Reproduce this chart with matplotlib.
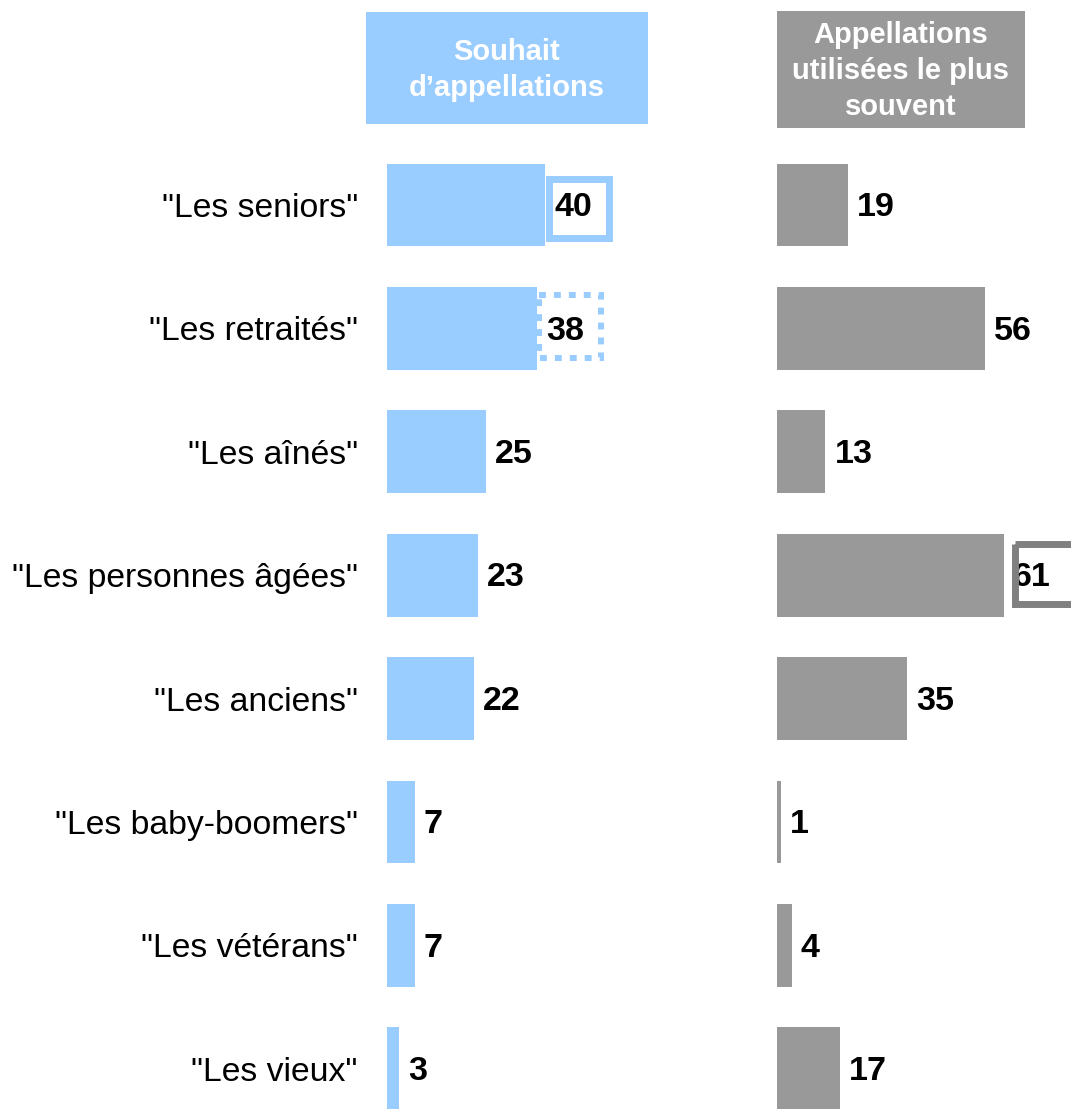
import matplotlib
matplotlib.use("Agg")
import matplotlib.pyplot as plt
from matplotlib.patches import Rectangle

plt.rcParams['font.family'] = ['Liberation Sans', 'DejaVu Sans']

categories = ['"Les seniors"', '"Les retraités"', '"Les aînés"', '"Les personnes âgées"',
              '"Les anciens"', '"Les baby-boomers"', '"Les vétérans"', '"Les vieux"']
souhait = [40, 38, 25, 23, 22, 7, 7, 3]
utilisees = [19, 56, 13, 61, 35, 1, 4, 17]
header_left = "Souhait\nd\u2019appellations"
header_right = "Appellations\nutilisées le plus\nsouvent"

BLUE = "#99CCFF"
GRAY = "#999999"
GRAY_BOX = "#808080"

W, H = 1071, 1109
fig = plt.figure(figsize=(W / 100, H / 100), dpi=100)


def ax_px(x0, x1, y0, y1):
    return fig.add_axes([x0 / W, 1 - y1 / H, (x1 - x0) / W, (y1 - y0) / H])


row = 123.4
top = 205 - row / 2
ymax = -0.5 + (H - top) / row
y = list(range(len(categories)))

axL = ax_px(387, 700, top, H)
axR = ax_px(777, 1071, top, H)
axL.set_xlim(0, 313 / 3.95)
axR.set_xlim(0, 294 / 3.72)

for ax, vals, col in [(axL, souhait, BLUE), (axR, utilisees, GRAY)]:
    ax.barh(y, vals, height=0.67, color=col, zorder=2)
    ax.set_ylim(ymax, -0.5)
    for yi, v in zip(y, vals):
        ax.annotate(str(v), (v, yi), xytext=(6.5, -2), textcoords="offset points",
                    ha="left", va="center", fontsize=24.5, fontweight="bold", zorder=3)
    ax.set_xticks([])
    for s in ax.spines.values():
        s.set_visible(False)

axL.set_yticks(y, categories, fontsize=24.3)
axL.tick_params(axis="y", length=0, pad=21)
axR.set_yticks([])

# highlight boxes
axL.add_patch(Rectangle((40.9, -0.21), 15.4, 0.48, fill=True, facecolor="white",
                        edgecolor=BLUE, lw=5, zorder=2.5, clip_on=False))
axL.texts[0].set_zorder(4)
axL.add_patch(Rectangle((38.6, -0.27 + 1), 15.5, 0.51, fill=False, edgecolor=BLUE,
                        lw=4.3, linestyle=(0, (1.15, 1.35)), zorder=4, clip_on=False))
axR.add_patch(Rectangle((64.1, -0.255 + 3), 16.4, 0.485, fill=False, edgecolor=GRAY_BOX,
                        lw=5, zorder=4, clip_on=False))

# headers
fig.add_artist(Rectangle((366 / W, 1 - 124 / H), 282 / W, 112 / H,
                         transform=fig.transFigure, color=BLUE, lw=0))
fig.add_artist(Rectangle((777 / W, 1 - 128 / H), 248 / W, 117 / H,
                         transform=fig.transFigure, color=GRAY, lw=0))
fig.text(507 / W, 1 - 70 / H, header_left, ha="center", va="center", color="white",
         fontsize=21, fontweight="bold", linespacing=1.35)
fig.text(901 / W, 1 - 71 / H, header_right, ha="center", va="center", color="white",
         fontsize=21, fontweight="bold", linespacing=1.35)

fig.savefig("out.png", dpi=100)
